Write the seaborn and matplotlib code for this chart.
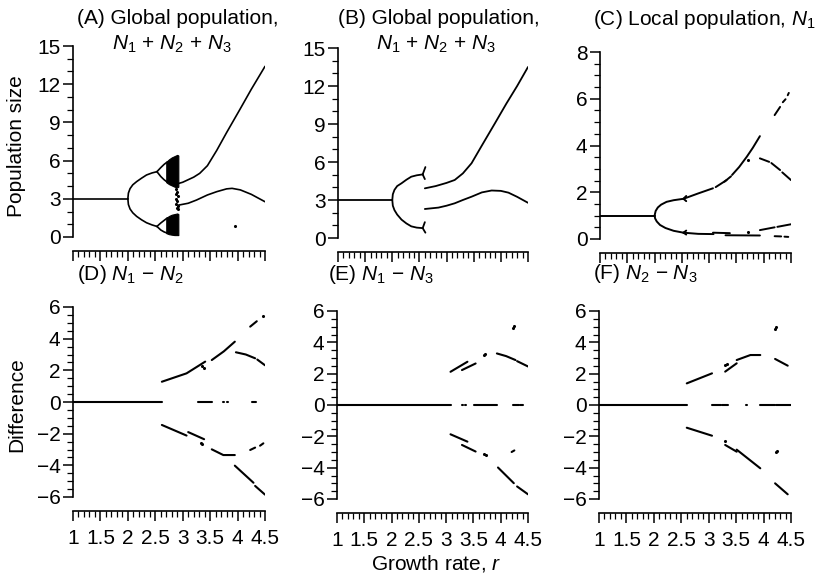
import numpy as np
import pandas as pd
import matplotlib
matplotlib.use("Agg")
import matplotlib.pyplot as plt
from matplotlib.ticker import MultipleLocator, FuncFormatter
import seaborn as sns

W, H = 819, 580

# ---------------- (A) global population, N1 + N2 + N3 ----------------
a_lines = [
    [(1.0, 3.0), (2.0, 3.0)],
    [(2.0, 3.0), (2.01, 3.45), (2.04, 3.8), (2.09, 4.1), (2.16, 4.35), (2.25, 4.62),
     (2.34, 4.87), (2.44, 5.03), (2.53, 5.13)],
    [(2.53, 5.13), (2.6, 5.45), (2.66, 5.7), (2.72, 5.9)],
    [(2.53, 5.13), (2.6, 4.75), (2.66, 4.5), (2.72, 4.3)],
    [(2.0, 3.0), (2.01, 2.55), (2.04, 2.2), (2.09, 1.9), (2.16, 1.62), (2.25, 1.35),
     (2.34, 1.12), (2.44, 0.95), (2.53, 0.83)],
    [(2.53, 0.83), (2.6, 1.1), (2.66, 1.3), (2.72, 1.5)],
    [(2.53, 0.83), (2.6, 0.55), (2.66, 0.4), (2.72, 0.3)],
    [(2.92, 4.2), (3.0, 4.3), (3.1, 4.5), (3.2, 4.7), (3.31, 5.0), (3.45, 5.6),
     (3.62, 6.8), (3.8, 8.2), (4.04, 10.0), (4.25, 11.6), (4.5, 13.4)],
    [(2.92, 2.5), (3.1, 2.65), (3.25, 2.9), (3.45, 3.3), (3.62, 3.56), (3.8, 3.78),
     (3.9, 3.82), (4.05, 3.7), (4.25, 3.35), (4.5, 2.77)],
]
a_band_r = [2.70, 2.75, 2.80, 2.85, 2.90, 2.92]
a_band_hi_top = [5.9, 6.1, 6.25, 6.35, 6.45, 6.4]
a_band_hi_bot = [4.3, 4.15, 4.05, 3.95, 3.9, 3.95]
a_band_lo_top = [1.5, 1.65, 1.75, 1.8, 1.85, 1.8]
a_band_lo_bot = [0.3, 0.22, 0.18, 0.15, 0.15, 0.15]
a_dots = [(2.88, 3.75), (2.9, 3.55), (2.87, 3.35), (2.91, 3.2), (2.88, 3.0), (2.9, 2.8),
          (2.87, 2.6), (2.91, 2.45), (2.89, 2.3), (2.92, 2.2), (3.95, 0.86)]

# ---------------- (B) global population, N1 + N2 + N3 ----------------
b_lines = [
    [(1.0, 3.0), (2.0, 3.0)],
    [(2.0, 3.0), (2.01, 3.45), (2.04, 3.8), (2.09, 4.1), (2.17, 4.32), (2.26, 4.6),
     (2.35, 4.84), (2.45, 4.95), (2.56, 5.02)],
    [(2.56, 5.02), (2.61, 5.6)],
    [(2.56, 5.02), (2.6, 4.65)],
    [(2.0, 3.0), (2.01, 2.55), (2.04, 2.2), (2.09, 1.85), (2.17, 1.45), (2.26, 1.15),
     (2.35, 0.92), (2.45, 0.82), (2.56, 0.78)],
    [(2.56, 0.78), (2.6, 1.25)],
    [(2.56, 0.78), (2.61, 0.42)],
    [(2.6, 3.92), (2.8, 4.1), (3.0, 4.35), (3.15, 4.58), (3.3, 5.1), (3.46, 5.9),
     (3.65, 7.3), (3.89, 9.05), (4.1, 10.6), (4.3, 12.0), (4.5, 13.5)],
    [(2.6, 2.29), (2.85, 2.4), (3.0, 2.55), (3.15, 2.74), (3.3, 3.0), (3.46, 3.26),
     (3.65, 3.6), (3.83, 3.75), (4.0, 3.72), (4.14, 3.58), (4.3, 3.25), (4.5, 2.78)],
]

# ---------------- (C) local population, N1 ----------------
c_lines = [
    [(1.0, 1.0), (2.0, 1.0)],
    [(2.0, 1.0), (2.02, 1.2), (2.06, 1.35), (2.12, 1.47), (2.22, 1.59), (2.35, 1.66),
     (2.53, 1.72)],
    [(2.53, 1.72), (2.58, 1.84)],
    [(2.53, 1.72), (2.58, 1.62)],
    [(2.53, 1.72), (2.8, 1.95), (3.07, 2.17)],
    [(3.12, 2.22), (3.32, 2.52)],
    [(3.28, 2.45), (3.4, 2.68)],
    [(3.42, 2.74), (3.55, 3.08), (3.69, 3.52), (3.8, 3.9), (3.93, 4.4)],
    [(4.2, 5.3), (4.3, 5.65)],
    [(4.35, 5.85), (4.4, 5.98)],
    [(4.44, 6.15), (4.46, 6.25)],
    [(3.93, 3.45), (4.1, 3.3)],
    [(4.14, 3.25), (4.3, 2.95)],
    [(4.34, 2.85), (4.5, 2.52)],
    [(2.0, 1.0), (2.01, 0.88), (2.04, 0.75), (2.1, 0.6), (2.2, 0.47), (2.35, 0.35),
     (2.53, 0.27)],
    [(2.53, 0.27), (2.58, 0.36)],
    [(2.53, 0.27), (2.58, 0.19)],
    [(2.53, 0.27), (2.8, 0.22), (3.08, 0.21)],
    [(3.07, 0.27), (3.38, 0.25)],
    [(3.3, 0.16), (3.93, 0.15)],
    [(3.93, 0.38), (4.2, 0.5)],
    [(4.25, 0.52), (4.5, 0.63)],
    [(4.2, 0.12), (4.32, 0.11)],
    [(4.38, 0.1), (4.45, 0.09)],
]
c_dots = [(3.72, 3.4), (3.72, 0.29)]

# ---------------- (D) N1 - N2 ----------------
d_lines = [
    [(1.0, 0.0), (2.62, 0.0)],
    [(2.62, 1.28), (3.07, 1.81), (3.41, 2.55)],
    [(3.53, 2.65), (3.75, 3.2), (3.95, 3.81)],
    [(4.23, 4.76), (4.35, 5.1)],
    [(3.97, 3.14), (4.15, 3.0), (4.32, 2.76)],
    [(4.36, 2.68), (4.5, 2.32)],
    [(3.28, 0.0), (3.53, 0.0)],
    [(3.73, 0.0), (3.76, 0.0)],
    [(3.8, 0.0), (3.82, 0.0)],
    [(4.27, 0.0), (4.33, 0.0)],
    [(2.62, -1.45), (3.07, -2.12)],
    [(3.1, -1.9), (3.39, -2.35)],
    [(3.53, -2.99), (3.74, -3.35), (3.95, -3.35)],
    [(4.23, -3.03), (4.32, -2.88)],
    [(4.41, -2.76), (4.47, -2.61)],
    [(3.95, -4.02), (4.29, -5.1)],
    [(4.32, -5.3), (4.5, -5.85)],
]
d_dots = [(3.36, 2.3), (3.39, 2.15), (4.47, 5.45), (3.33, -2.6), (3.36, -2.65)]

# ---------------- (E) N1 - N3 ----------------
e_lines = [
    [(1.0, 0.0), (3.08, 0.0)],
    [(3.08, 2.12), (3.39, 2.76)],
    [(3.29, 2.23), (3.54, 2.65)],
    [(3.93, 3.29), (4.1, 3.12), (4.27, 2.87)],
    [(4.3, 2.8), (4.5, 2.46)],
    [(3.29, 0.0), (3.31, 0.0)],
    [(3.34, 0.0), (3.36, 0.0)],
    [(3.51, 0.0), (3.94, 0.0)],
    [(4.22, 0.0), (4.33, 0.0)],
    [(4.36, 0.0), (4.4, 0.0)],
    [(3.08, -1.87), (3.39, -2.34)],
    [(3.29, -2.55), (3.54, -2.97)],
    [(4.2, -3.0), (4.25, -2.9)],
    [(3.95, -3.99), (4.24, -4.99)],
    [(4.3, -5.2), (4.5, -5.7)],
]
e_dots = [(3.7, 3.18), (3.72, 3.28), (4.22, 4.9), (4.24, 5.05), (3.7, -3.15), (3.73, -3.22)]

# ---------------- (F) N2 - N3 ----------------
f_lines = [
    [(1.0, 0.0), (2.6, 0.0)],
    [(2.6, 1.38), (3.06, 2.02)],
    [(3.3, 2.13), (3.51, 2.66)],
    [(3.51, 2.87), (3.76, 3.19), (3.94, 3.19)],
    [(4.21, 2.94), (4.44, 2.51)],
    [(3.06, 0.0), (3.22, 0.0)],
    [(3.25, 0.0), (3.36, 0.0)],
    [(3.68, 0.0), (3.7, 0.0)],
    [(3.94, 0.0), (4.2, 0.0)],
    [(4.23, 0.0), (4.5, 0.0)],
    [(2.6, -1.45), (3.06, -1.96)],
    [(3.3, -2.55), (3.51, -2.98)],
    [(3.51, -2.85), (3.94, -4.04)],
    [(4.21, -5.0), (4.44, -5.7)],
]
f_dots = [(3.3, 2.55), (3.34, 2.62), (4.21, 4.85), (4.23, 4.95), (3.3, -2.3),
          (4.22, -3.0), (4.25, -2.95)]

x_major = [1, 1.5, 2, 2.5, 3, 3.5, 4, 4.5]

# ---------------- styling ----------------
sns.set_theme(style="ticks")
plt.rcParams["font.family"] = ["Liberation Sans", "DejaVu Sans"]
plt.rcParams["mathtext.fontset"] = "custom"
plt.rcParams["mathtext.rm"] = "Liberation Sans"
plt.rcParams["mathtext.it"] = "Liberation Sans:italic"
plt.rcParams["axes.unicode_minus"] = True
plt.rcParams["text.color"] = "black"

FS = 15

fig = plt.figure(figsize=(W / 100, H / 100), dpi=100)


def add_axes_px(left, right, top, bottom):
    return fig.add_axes([left / W, 1 - bottom / H, (right - left) / W, (bottom - top) / H])


def seg_frame(segs):
    rows = []
    for i, seg in enumerate(segs):
        for r, v in seg:
            rows.append((i, r, v))
    return pd.DataFrame(rows, columns=["seg", "r", "value"])


def draw(ax, segs, dots=None, lw=1.4):
    sns.lineplot(data=seg_frame(segs), x="r", y="value", units="seg", estimator=None,
                 sort=False, color="black", lw=lw, ax=ax, legend=False)
    if dots:
        dd = pd.DataFrame(dots, columns=["r", "value"])
        sns.scatterplot(data=dd, x="r", y="value", color="black", s=5, linewidth=0,
                        ax=ax, legend=False)


def style(ax, ylim, ymaj, ymin, xlabels):
    ax.set_xlim(1, 4.5)
    ax.set_ylim(*ylim)
    ax.set_xticks(x_major)
    ax.xaxis.set_minor_locator(MultipleLocator(0.1))
    ax.yaxis.set_major_locator(MultipleLocator(ymaj))
    ax.yaxis.set_minor_locator(MultipleLocator(ymin))
    fmt = FuncFormatter(lambda v, p: f"{v:g}".replace("-", "\u2212"))
    ax.xaxis.set_major_formatter(fmt)
    ax.yaxis.set_major_formatter(fmt)
    ax.set_xlabel("")
    ax.set_ylabel("")
    sns.despine(ax=ax, offset={"bottom": 10})
    for s in ("left", "bottom"):
        ax.spines[s].set_linewidth(1.2)
        ax.spines[s].set_color("black")
    ax.tick_params(axis="both", which="major", length=7, width=1.1, color="black",
                   labelsize=FS, labelcolor="black")
    ax.tick_params(axis="both", which="minor", length=4, width=0.9, color="black")
    ax.tick_params(axis="y", which="major", pad=2)
    ax.tick_params(axis="x", which="major", pad=6)
    if not xlabels:
        ax.tick_params(axis="x", labelbottom=False)
    ax.set_facecolor("white")
    ax.grid(False)


axA = add_axes_px(73, 265, 46, 237)
axB = add_axes_px(338, 528, 48, 238)
axC = add_axes_px(600, 791, 52, 239)
axD = add_axes_px(73, 265, 307, 497)
axE = add_axes_px(337, 528, 311, 499)
axF = add_axes_px(599, 791, 311, 499)

draw(axA, a_lines, a_dots, lw=1.2)
axA.fill_between(a_band_r, a_band_hi_bot, a_band_hi_top, color="black", lw=0.8)
axA.fill_between(a_band_r, a_band_lo_bot, a_band_lo_top, color="black", lw=0.8)
draw(axB, b_lines, lw=1.3)
draw(axC, c_lines, c_dots, lw=1.4)
draw(axD, d_lines, d_dots, lw=1.5)
draw(axE, e_lines, e_dots, lw=1.5)
draw(axF, f_lines, f_dots, lw=1.5)

style(axA, (0, 15), 3, 1, False)
style(axB, (0, 15), 3, 1, False)
style(axC, (0, 8), 2, 0.5, False)
style(axD, (-6, 6), 2, 0.5, True)
style(axE, (-6, 6), 2, 0.5, True)
style(axF, (-6, 6), 2, 0.5, True)


def ftext(px, py, s, **kw):
    kw.setdefault("fontsize", FS)
    kw.setdefault("color", "black")
    fig.text(px / W, 1 - py / H, s, **kw)


# panel titles
ftext(77, 24, "(A) Global population,", ha="left", va="baseline")
ftext(172, 50, r"$N_1$ + $N_2$ + $N_3$", ha="center", va="baseline")
ftext(338, 24, "(B) Global population,", ha="left", va="baseline")
ftext(436, 50, r"$N_1$ + $N_2$ + $N_3$", ha="center", va="baseline")
ftext(593, 25, r"(C) Local population, $N_1$", ha="left", va="baseline")
ftext(77, 280, "(D) $N_1$ \u2212 $N_2$", ha="left", va="baseline")
ftext(328, 280, "(E) $N_1$ \u2212 $N_3$", ha="left", va="baseline")
ftext(593, 279, "(F) $N_2$ \u2212 $N_3$", ha="left", va="baseline")

# axis labels
ftext(17, 146, "Population size", rotation=90, ha="center", va="center")
ftext(17, 405, "Difference", rotation=90, ha="center", va="center")
ftext(436, 570, "Growth rate, $r$", ha="center", va="baseline")

fig.savefig("out.png", dpi=100, facecolor="white")
